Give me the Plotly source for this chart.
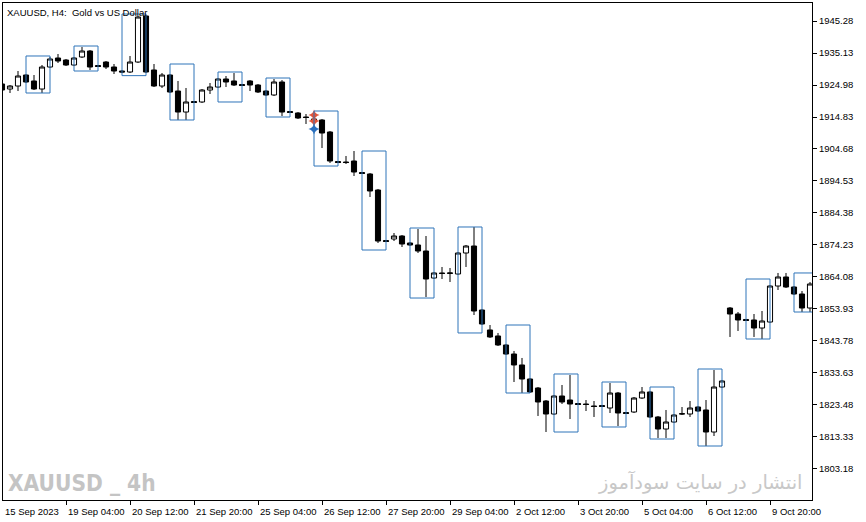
import plotly.graph_objects as go

# XAUUSD H4 bars (first bar 15 Sep 2023 20:00)
opens = [1925.30, 1923.71, 1924.66, 1928.15, 1926.25, 1923.71, 1930.69, 1933.54, 1932.91, 1931.32,
         1933.86, 1935.76, 1931.16, 1932.27, 1930.69, 1929.42, 1929.10, 1932.27, 1946.87, 1929.74,
         1924.66, 1928.15, 1923.07, 1916.41, 1919.74, 1919.59, 1923.39, 1924.34, 1926.88, 1926.25,
         1925.14, 1926.25, 1924.98, 1923.07, 1921.81, 1925.93, 1916.57, 1916.10, 1914.83, 1914.19,
         1913.88, 1910.07, 1900.71, 1900.55, 1900.87, 1897.22, 1896.75, 1891.67, 1875.65, 1876.13,
         1877.08, 1874.86, 1874.23, 1872.32, 1863.76, 1865.35, 1865.19, 1865.03, 1871.69, 1873.91,
         1853.61, 1847.27, 1845.37, 1842.51, 1839.65, 1836.17, 1831.72, 1828.87, 1824.74, 1820.62,
         1826.33, 1825.06, 1823.95, 1823.79, 1823.16, 1823.31, 1822.52, 1827.28, 1821.09, 1821.25,
         1825.69, 1827.60, 1819.67, 1815.86, 1818.08, 1820.62, 1820.62, 1822.84, 1821.89, 1814.91,
         1829.18, 1854.24, 1852.34, 1850.60, 1850.44, 1847.90, 1849.80, 1861.22, 1864.08, 1860.90,
         1858.68, 1854.24]
highs = [1925.61, 1924.98, 1929.42, 1928.47, 1928.15, 1931.32, 1933.86, 1934.81, 1933.23, 1933.86,
         1937.03, 1936.08, 1931.32, 1932.59, 1931.64, 1929.74, 1934.18, 1946.87, 1947.18, 1931.64,
         1928.78, 1928.47, 1926.25, 1924.03, 1919.90, 1923.71, 1925.61, 1927.20, 1927.83, 1928.78,
         1925.30, 1926.56, 1925.30, 1923.39, 1926.88, 1926.56, 1916.73, 1916.41, 1915.78, 1916.10,
         1914.19, 1910.39, 1900.87, 1902.46, 1904.04, 1897.38, 1897.07, 1892.00, 1875.81, 1878.03,
         1877.40, 1875.18, 1879.30, 1877.08, 1865.66, 1867.25, 1866.93, 1872.01, 1874.23, 1879.94,
         1853.93, 1848.85, 1846.32, 1842.83, 1840.61, 1838.39, 1832.04, 1829.18, 1825.06, 1826.65,
         1829.82, 1832.99, 1824.11, 1825.06, 1824.74, 1823.48, 1830.45, 1827.60, 1821.25, 1826.01,
         1829.18, 1827.92, 1819.99, 1821.89, 1820.62, 1822.84, 1824.74, 1823.16, 1825.06, 1834.58,
         1831.41, 1854.56, 1852.97, 1850.75, 1852.34, 1853.29, 1861.54, 1865.35, 1865.35, 1861.22,
         1859.63, 1862.49]
lows = [1923.07, 1922.44, 1923.07, 1925.61, 1923.39, 1922.44, 1930.37, 1931.96, 1931.00, 1931.00,
        1933.54, 1929.74, 1930.69, 1930.05, 1928.47, 1928.78, 1928.78, 1931.96, 1928.78, 1924.34,
        1924.03, 1922.44, 1913.88, 1913.88, 1919.27, 1919.27, 1922.12, 1924.03, 1924.34, 1924.66,
        1924.66, 1923.07, 1922.44, 1921.49, 1921.49, 1915.14, 1916.10, 1914.19, 1912.61, 1912.92,
        1904.99, 1900.24, 1900.24, 1899.92, 1896.11, 1896.75, 1889.45, 1874.86, 1875.18, 1875.49,
        1873.59, 1873.91, 1871.69, 1857.73, 1863.44, 1863.44, 1862.49, 1864.71, 1867.25, 1852.02,
        1848.85, 1844.73, 1842.19, 1839.34, 1830.77, 1827.28, 1827.28, 1819.99, 1814.91, 1820.30,
        1823.79, 1819.03, 1823.48, 1821.57, 1819.67, 1822.84, 1820.94, 1816.81, 1820.62, 1820.94,
        1825.38, 1819.35, 1813.00, 1813.00, 1817.77, 1820.30, 1819.67, 1821.25, 1810.47, 1813.64,
        1828.87, 1845.05, 1846.95, 1850.12, 1845.05, 1844.41, 1849.49, 1859.95, 1860.59, 1858.37,
        1852.97, 1852.97]
closes = [1923.39, 1924.66, 1927.83, 1925.93, 1923.71, 1930.69, 1933.23, 1932.59, 1931.32, 1933.54,
          1935.76, 1930.69, 1930.85, 1930.69, 1929.42, 1929.10, 1932.27, 1946.55, 1929.10, 1924.66,
          1928.15, 1922.76, 1916.41, 1919.59, 1919.43, 1923.39, 1924.34, 1926.88, 1925.93, 1924.98,
          1924.82, 1924.98, 1922.76, 1921.81, 1925.93, 1916.41, 1916.26, 1914.51, 1914.67, 1913.56,
          1909.75, 1900.87, 1900.39, 1900.39, 1897.38, 1896.91, 1891.36, 1875.49, 1875.34, 1877.08,
          1874.54, 1874.23, 1872.32, 1863.44, 1865.35, 1865.19, 1865.35, 1871.69, 1873.91, 1853.29,
          1849.17, 1845.05, 1842.51, 1839.65, 1836.17, 1831.72, 1827.60, 1824.43, 1820.62, 1826.33,
          1824.43, 1823.79, 1823.63, 1823.63, 1823.00, 1823.00, 1827.28, 1820.94, 1820.78, 1825.69,
          1827.60, 1819.67, 1815.86, 1818.08, 1820.30, 1820.70, 1822.52, 1821.57, 1814.91, 1829.18,
          1831.09, 1852.34, 1850.44, 1850.28, 1847.90, 1850.12, 1861.22, 1864.08, 1860.90, 1858.68,
          1854.24, 1861.86]
bars = list(range(len(opens)))

# time axis labels (every 8 bars)
x_tick_bars = [8, 16, 24, 32, 40, 48, 56, 64, 72, 80, 88, 96]
x_tick_text = ["19 Sep 04:00", "20 Sep 12:00", "21 Sep 20:00", "25 Sep 04:00", "26 Sep 12:00",
               "27 Sep 20:00", "29 Sep 04:00", "2 Oct 12:00", "3 Oct 20:00", "5 Oct 04:00",
               "6 Oct 12:00", "9 Oct 20:00"]
first_label = "15 Sep 2023"

y_tick_vals = [1945.28, 1935.13, 1924.98, 1914.83, 1904.68, 1894.53, 1884.38, 1874.23,
               1864.08, 1853.93, 1843.78, 1833.63, 1823.48, 1813.33, 1803.18]

# session boxes: start bar, 3 bars wide
box_start = [3, 9, 15, 21, 27, 33, 39, 45, 51, 57, 63, 69, 75, 81, 87, 93, 99]
box_top = [1934.18, 1937.35, 1947.50, 1931.64, 1929.10, 1927.20, 1916.73, 1904.04, 1879.62,
           1879.94, 1848.85, 1833.31, 1830.77, 1829.18, 1834.89, 1863.44, 1865.35]
box_bottom = [1922.44, 1929.42, 1927.95, 1913.88, 1919.59, 1914.83, 1899.28, 1872.64, 1857.41,
              1846.32, 1827.28, 1814.91, 1816.50, 1812.69, 1810.47, 1844.41, 1852.97]

# arrow signals on one bar
signal_bar = 39
signal_red = [1915.46, 1913.56]
signal_blue = [1911.02]

fig = go.Figure()
fig.add_trace(go.Candlestick(
    x=bars, open=opens, high=highs, low=lows, close=closes,
    increasing=dict(line=dict(color="black", width=1), fillcolor="white"),
    decreasing=dict(line=dict(color="black", width=1), fillcolor="black"),
    whiskerwidth=0, hoverinfo="skip", showlegend=False,
))
fig.add_trace(go.Scatter(
    x=[signal_bar] * len(signal_red), y=signal_red, mode="markers",
    marker=dict(symbol="star-diamond", size=8, color="#e2553a"),
    hoverinfo="skip", showlegend=False,
))
fig.add_trace(go.Scatter(
    x=[signal_bar] * len(signal_blue), y=signal_blue, mode="markers",
    marker=dict(symbol="star-diamond", size=8, color="#2a6fc0"),
    hoverinfo="skip", showlegend=False,
))

for s, t, b in zip(box_start, box_top, box_bottom):
    fig.add_shape(type="rect", xref="x", yref="y", x0=s, x1=s + 3, y0=b, y1=t,
                  line=dict(color="#2f74b9", width=1), fillcolor="rgba(0,0,0,0)", layer="above")

tick_font = dict(family="Liberation Sans, Arial, sans-serif", size=9.5, color="black")

annotations = [dict(x=b, y=0, xref="x", yref="paper", text=t, showarrow=False,
                    xanchor="left", yanchor="top", xshift=0, yshift=-4, font=tick_font)
               for b, t in zip(x_tick_bars, x_tick_text)]
annotations.append(dict(x=0, y=0, xref="paper", yref="paper", text=first_label, showarrow=False,
                        xanchor="left", yanchor="top", xshift=0, yshift=-4, font=tick_font))
annotations.append(dict(x=0, y=1, xref="paper", yref="paper", text="XAUUSD, H4:  Gold vs US Dollar",
                        showarrow=False, xanchor="left", yanchor="top", xshift=2, yshift=-2,
                        font=tick_font))
annotations.append(dict(x=0, y=0, xref="paper", yref="paper", text="<b>XAUUSD _ 4h</b>",
                        showarrow=False, xanchor="left", yanchor="bottom", xshift=3, yshift=2,
                        font=dict(family="DejaVu Sans Condensed, DejaVu Sans, sans-serif",
                                  size=22.5, color="#c4c4c4")))
annotations.append(dict(x=0.99, y=0, xref="paper", yref="paper", text="انتشار در سایت سودآموز",
                        showarrow=False, xanchor="right", yanchor="bottom", yshift=4,
                        font=dict(family="DejaVu Sans, sans-serif", size=19.5, color="#c8c8c8")))

fig.update_layout(
    width=866, height=522,
    margin=dict(l=3, r=54, t=3, b=22),
    paper_bgcolor="white", plot_bgcolor="white",
    boxgap=0.2, boxgroupgap=0.2,
    annotations=annotations,
    font=tick_font,
    xaxis=dict(range=[0.125, 101.25], rangeslider=dict(visible=False), showgrid=False,
               zeroline=False, showline=True, linecolor="black", linewidth=1, mirror=True,
               tickvals=x_tick_bars, ticks="outside", ticklen=4, tickcolor="black",
               showticklabels=False),
    yaxis=dict(range=[1793.34, 1950.99], side="right", showgrid=False, zeroline=False,
               showline=True, linecolor="black", linewidth=1, mirror=True,
               tickvals=y_tick_vals, ticktext=[f"{v:.2f}" for v in y_tick_vals],
               ticks="outside", ticklen=4, tickcolor="black", tickfont=tick_font),
)

fig.write_html("out.html", config={"displayModeBar": False},
               post_script="document.body.style.margin = '0';")
